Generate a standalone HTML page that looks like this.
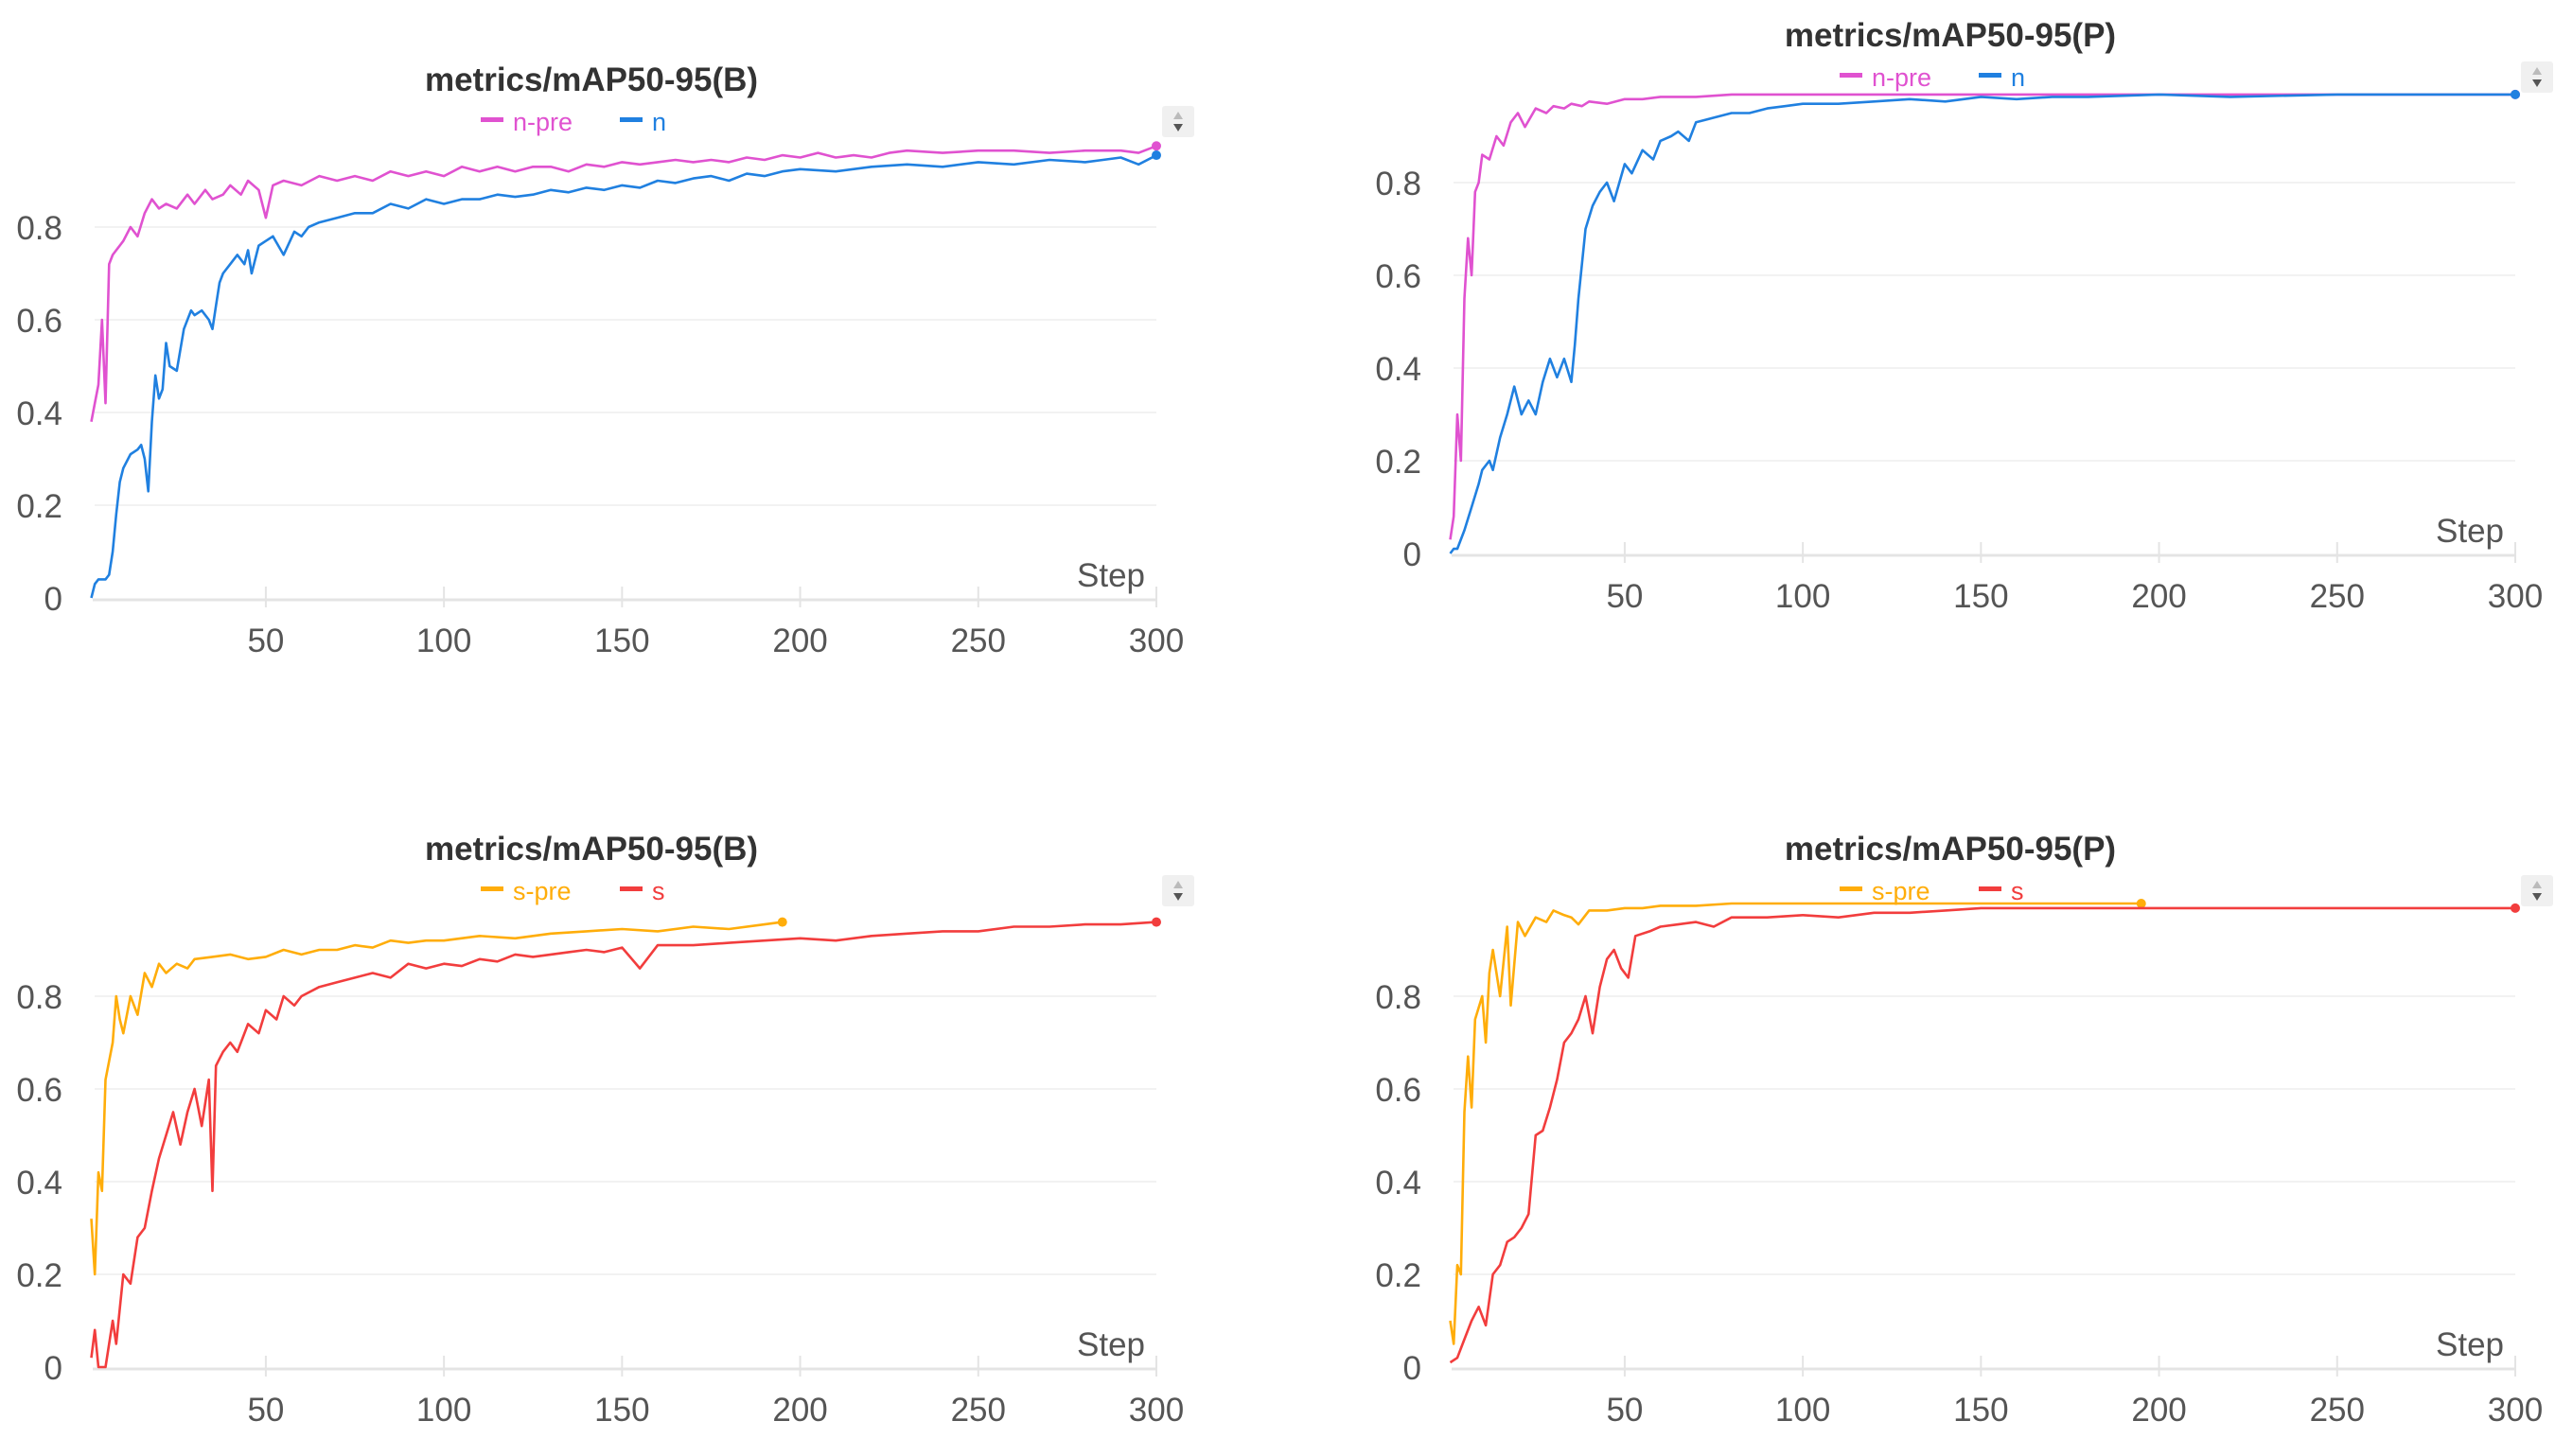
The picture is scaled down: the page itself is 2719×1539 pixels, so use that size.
<!DOCTYPE html>
<html><head><meta charset="utf-8">
<style>
html,body{margin:0;padding:0;background:#fff;}
svg{display:block;font-family:"Liberation Sans","DejaVu Sans",sans-serif;}
</style></head>
<body>
<svg id="root" width="2719" height="1539" viewBox="0 0 2719 1539"></svg>
<script>
// ---- data: top-left (mAP50-95(B), n) ----
const tlPreSteps = [1,2,3,4,5,6,7,8,10,12,14,16,18,20,22,25,28,30,33,35,38,40,43,45,48,50,52,55,60,65,70,75,80,85,90,95,100,105,110,115,120,125,130,135,140,145,150,155,160,165,170,175,180,185,190,195,200,205,210,215,220,225,230,240,250,260,270,280,290,295,300];
const tlPreVals  = [0.38,0.42,0.46,0.6,0.42,0.72,0.74,0.75,0.77,0.8,0.78,0.83,0.86,0.84,0.85,0.84,0.87,0.85,0.88,0.86,0.87,0.89,0.87,0.9,0.88,0.82,0.89,0.9,0.89,0.91,0.9,0.91,0.9,0.92,0.91,0.92,0.91,0.93,0.92,0.93,0.92,0.93,0.93,0.92,0.935,0.93,0.94,0.935,0.94,0.945,0.94,0.945,0.94,0.95,0.945,0.955,0.95,0.96,0.95,0.955,0.95,0.96,0.965,0.96,0.965,0.965,0.96,0.965,0.965,0.96,0.975];
const tlSteps = [1,2,3,5,6,7,8,9,10,12,14,15,16,17,18,19,20,21,22,23,25,27,29,30,32,34,35,36,37,38,40,42,44,45,46,48,50,52,55,58,60,62,65,70,75,80,85,90,95,100,105,110,115,120,125,130,135,140,145,150,155,160,165,170,175,180,185,190,195,200,210,220,230,240,250,260,270,280,285,290,295,300];
const tlVals  = [0.0,0.03,0.04,0.04,0.05,0.1,0.18,0.25,0.28,0.31,0.32,0.33,0.3,0.23,0.38,0.48,0.43,0.45,0.55,0.5,0.49,0.58,0.62,0.61,0.62,0.6,0.58,0.63,0.68,0.7,0.72,0.74,0.72,0.75,0.7,0.76,0.77,0.78,0.74,0.79,0.78,0.8,0.81,0.82,0.83,0.83,0.85,0.84,0.86,0.85,0.86,0.86,0.87,0.865,0.87,0.88,0.875,0.885,0.88,0.89,0.885,0.9,0.895,0.905,0.91,0.9,0.915,0.91,0.92,0.925,0.92,0.93,0.935,0.93,0.94,0.935,0.945,0.94,0.945,0.95,0.935,0.955];

// ---- data: top-right (mAP50-95(P), n) ----
const trPreSteps = [1,2,3,4,5,6,7,8,9,10,12,14,16,18,20,22,25,28,30,33,35,38,40,45,50,55,60,70,80,90,100,120,150,200,250,300];
const trPreVals  = [0.03,0.08,0.3,0.2,0.55,0.68,0.6,0.78,0.8,0.86,0.85,0.9,0.88,0.93,0.95,0.92,0.96,0.95,0.965,0.96,0.97,0.965,0.975,0.97,0.98,0.98,0.985,0.985,0.99,0.99,0.99,0.99,0.99,0.99,0.99,0.99];
const trSteps = [1,2,3,5,7,9,10,12,13,15,17,19,21,23,25,27,29,31,33,35,36,37,39,41,43,45,47,50,52,55,58,60,63,65,68,70,75,80,85,90,95,100,110,120,130,140,150,160,170,180,200,220,250,280,300];
const trVals  = [0.0,0.01,0.01,0.05,0.1,0.15,0.18,0.2,0.18,0.25,0.3,0.36,0.3,0.33,0.3,0.37,0.42,0.38,0.42,0.37,0.45,0.55,0.7,0.75,0.78,0.8,0.76,0.84,0.82,0.87,0.85,0.89,0.9,0.91,0.89,0.93,0.94,0.95,0.95,0.96,0.965,0.97,0.97,0.975,0.98,0.975,0.985,0.98,0.985,0.985,0.99,0.985,0.99,0.99,0.99];

// ---- data: bottom-left (mAP50-95(B), s) ----
const blPreSteps = [1,2,3,4,5,6,7,8,9,10,12,14,16,18,20,22,25,28,30,35,40,45,50,55,60,65,70,75,80,85,90,95,100,110,120,130,140,150,160,170,180,190,195];
const blPreVals  = [0.32,0.2,0.42,0.38,0.62,0.66,0.7,0.8,0.75,0.72,0.8,0.76,0.85,0.82,0.87,0.85,0.87,0.86,0.88,0.885,0.89,0.88,0.885,0.9,0.89,0.9,0.9,0.91,0.905,0.92,0.915,0.92,0.92,0.93,0.925,0.935,0.94,0.945,0.94,0.95,0.945,0.955,0.96];
const blSteps = [1,2,3,5,7,8,10,12,14,16,18,20,22,24,26,28,30,32,34,35,36,38,40,42,45,48,50,53,55,58,60,65,70,75,80,85,90,95,100,105,110,115,120,125,130,135,140,145,150,155,160,170,180,190,200,210,220,230,240,250,260,270,280,290,300];
const blVals  = [0.02,0.08,0.0,0.0,0.1,0.05,0.2,0.18,0.28,0.3,0.38,0.45,0.5,0.55,0.48,0.55,0.6,0.52,0.62,0.38,0.65,0.68,0.7,0.68,0.74,0.72,0.77,0.75,0.8,0.78,0.8,0.82,0.83,0.84,0.85,0.84,0.87,0.86,0.87,0.865,0.88,0.875,0.89,0.885,0.89,0.895,0.9,0.895,0.905,0.86,0.91,0.91,0.915,0.92,0.925,0.92,0.93,0.935,0.94,0.94,0.95,0.95,0.955,0.955,0.96];

// ---- data: bottom-right (mAP50-95(P), s) ----
const brPreSteps = [1,2,3,4,5,6,7,8,10,11,12,13,15,17,18,20,22,25,28,30,33,35,37,40,45,50,55,60,70,80,100,130,160,195];
const brPreVals  = [0.1,0.05,0.22,0.2,0.55,0.67,0.56,0.75,0.8,0.7,0.85,0.9,0.8,0.95,0.78,0.96,0.93,0.97,0.96,0.985,0.975,0.97,0.955,0.985,0.985,0.99,0.99,0.995,0.995,1.0,1.0,1.0,1.0,1.0];
const brSteps = [1,3,5,7,9,11,13,15,17,19,21,23,25,27,29,31,33,35,37,39,41,43,45,47,49,51,53,57,60,65,70,75,80,90,100,110,120,130,140,150,170,200,230,260,300];
const brVals  = [0.01,0.02,0.06,0.1,0.13,0.09,0.2,0.22,0.27,0.28,0.3,0.33,0.5,0.51,0.56,0.62,0.7,0.72,0.75,0.8,0.72,0.82,0.88,0.9,0.86,0.84,0.93,0.94,0.95,0.955,0.96,0.95,0.97,0.97,0.975,0.97,0.98,0.98,0.985,0.99,0.99,0.99,0.99,0.99,0.99];

const yTicks = [0,0.2,0.4,0.6,0.8];
const yTickLabels = ["0","0.2","0.4","0.6","0.8"];
const xTicks = [50,100,150,200,250,300];
const xTickLabels = ["50","100","150","200","250","300"];

const charts = [
  {id:'top-left', title:'metrics/mAP50-95(B)', dx:0, dy:0, legend:['n-pre','n'], colors:['#e052d0','#2080e0'], pre:[tlPreSteps,tlPreVals], main:[tlSteps,tlVals]},
  {id:'top-right', title:'metrics/mAP50-95(P)', dx:1436, dy:-47, legend:['n-pre','n'], colors:['#e052d0','#2080e0'], pre:[trPreSteps,trPreVals], main:[trSteps,trVals]},
  {id:'bottom-left', title:'metrics/mAP50-95(B)', dx:0, dy:813, legend:['s-pre','s'], colors:['#ffad0a','#f23d3d'], pre:[blPreSteps,blPreVals], main:[blSteps,blVals]},
  {id:'bottom-right', title:'metrics/mAP50-95(P)', dx:1436, dy:813, legend:['s-pre','s'], colors:['#ffad0a','#f23d3d'], pre:[brPreSteps,brPreVals], main:[brSteps,brVals]}
];

const NS = 'http://www.w3.org/2000/svg';
const root = document.getElementById('root');
function mk(tag, attrs, parent){const e=document.createElementNS(NS,tag);for(const k in attrs)e.setAttribute(k,attrs[k]);parent.appendChild(e);return e;}

charts.forEach(c => {
  const g = mk('g',{transform:`translate(${c.dx},${c.dy})`},root);
  
  
  const X0 = 92.7, X300 = 1222, Y0 = 632, Y1 = 142;
  const xs = s => X0 + (X300 - X0) * s / 300;
  const ys = v => Y0 - (Y0 - Y1) * v;

  yTicks.forEach((t,i) => {
    if (t > 0) {
      const gl = mk('line',{x1:100,x2:X300,y1:ys(t),y2:ys(t),stroke:'#f2f2f2','stroke-width':2},g);
      
      
    }
    const tl = mk('text',{x:66,y:ys(t)+13,'text-anchor':'end','font-size':35,fill:'#555'},g);
    tl.textContent = yTickLabels[i];
    
    
  });
  const ax = mk('line',{x1:98,x2:X300,y1:Y0+2,y2:Y0+2,stroke:'#e4e4e4','stroke-width':3},g);
  
  
  xTicks.forEach((t,i) => {
    const tk = mk('line',{x1:xs(t),x2:xs(t),y1:Y0-12,y2:Y0+10,stroke:'#e4e4e4','stroke-width':2},g);
    
    
    const tl = mk('text',{x:xs(t),y:Y0+57,'text-anchor':'middle','font-size':35,fill:'#555'},g);
    tl.textContent = xTickLabels[i];
    
    
  });
  const st = mk('text',{x:1210,y:Y0-12,'text-anchor':'end','font-size':35,fill:'#555'},g);
  st.textContent = 'Step';
  
  

  const ti = mk('text',{x:625,y:96,'text-anchor':'middle','font-size':35,fill:'#333','font-weight':'bold'},g);
  ti.textContent = c.title;
  
  

  [[508,c.legend[0],c.colors[0]],[655,c.legend[1],c.colors[1]]].forEach(([lx,lab,col]) => {
    const lg = mk('g',{},g);
    
    
    mk('rect',{x:lx,y:124,width:24,height:5,fill:col},lg);
    const lt = mk('text',{x:lx+34,y:138,'font-size':27,fill:col},lg);
    lt.textContent = lab;
  });

  const sc = mk('g',{},g);
  
  
  mk('rect',{x:1228,y:112,width:34,height:33,fill:'#f0f0f0',rx:3},sc);
  mk('path',{d:'M1240,126 l5,-8 l5,8 z',fill:'#bbb'},sc);
  mk('path',{d:'M1240,131 l5,8 l5,-8 z',fill:'#555'},sc);

  [[c.pre,c.colors[0],c.legend[0]],[c.main,c.colors[1],c.legend[1]]].forEach(([d,col,lab]) => {
    const pts = d[0].map((s,i) => xs(s).toFixed(1)+','+ys(d[1][i]).toFixed(1)).join(' ');
    const pl = mk('polyline',{points:pts,fill:'none',stroke:col,'stroke-width':2.6,'stroke-linejoin':'round'},g);
    
    
    const n = d[0].length-1;
    const dot = mk('circle',{cx:xs(d[0][n]),cy:ys(d[1][n]),r:5,fill:col},g);
    
    
  });
});
</script>
</body></html>
